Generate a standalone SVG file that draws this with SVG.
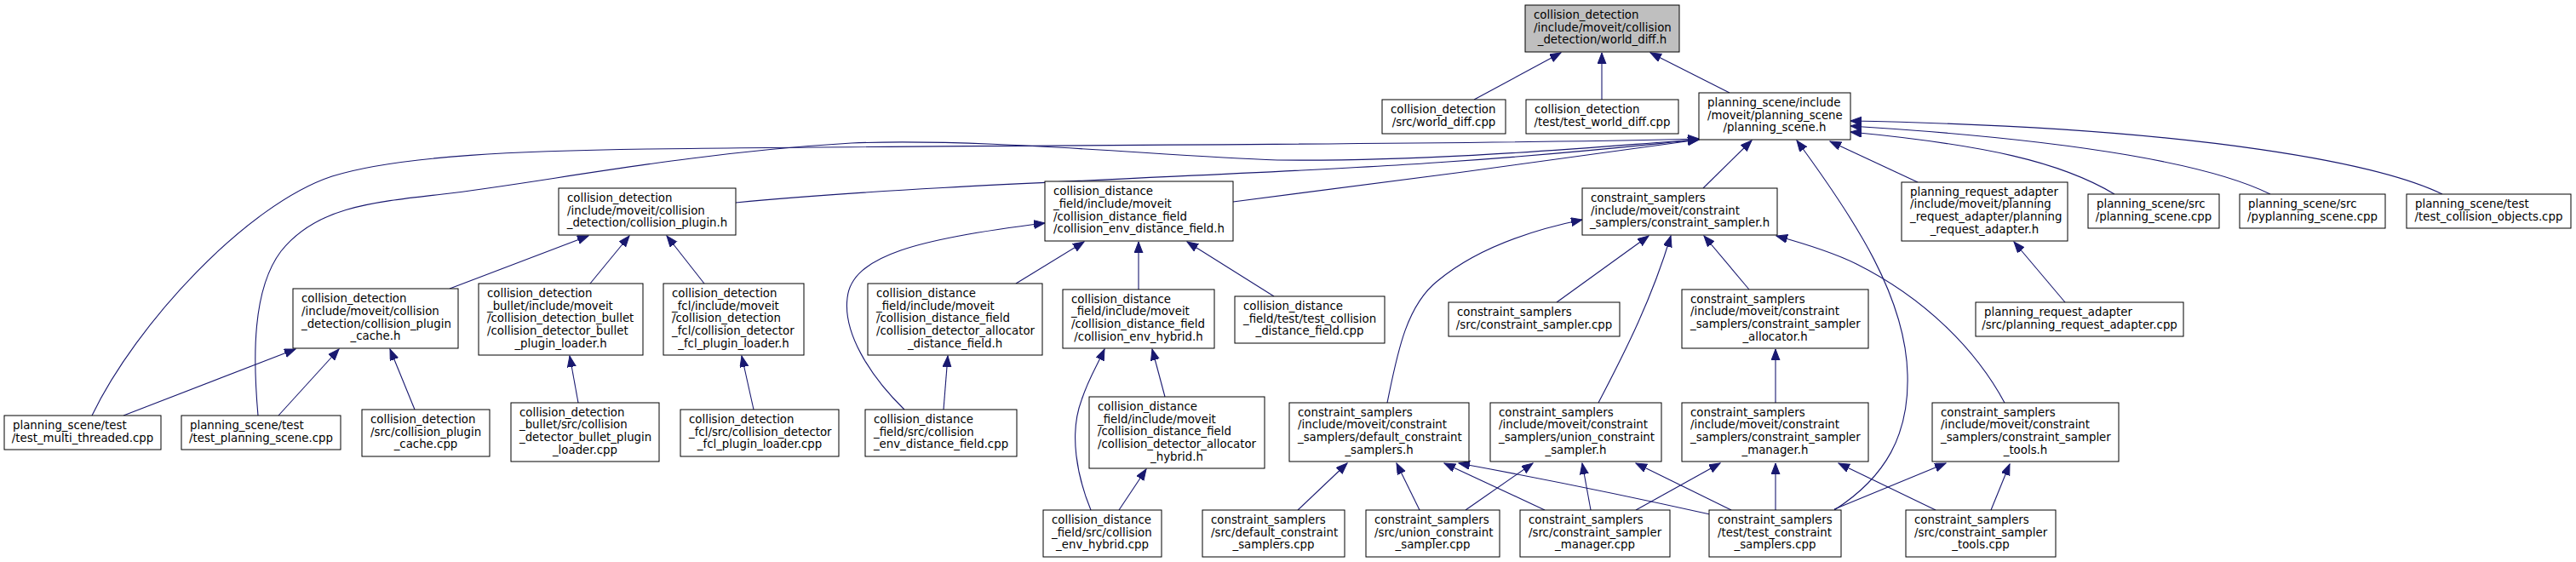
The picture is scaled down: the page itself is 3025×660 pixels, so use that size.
<svg xmlns="http://www.w3.org/2000/svg" width="3025" height="660" viewBox="0 0 3025 660">
<style>
.node rect{fill:#ffffff;stroke:#000000;stroke-width:1}
.root rect{fill:#bfbfbf}
text{font-family:"DejaVu Sans","Liberation Sans",sans-serif;font-size:13.33px;fill:#000000}
.c{text-anchor:middle}
.e path{fill:none;stroke:#191970;stroke-width:1.1;marker-end:url(#ah)}
</style>
<defs>
<marker id="ah" markerUnits="userSpaceOnUse" markerWidth="14" markerHeight="11" refX="13" refY="5" orient="auto">
<path d="M0,0 L13,5 L0,10 z" fill="#191970" stroke="#191970" stroke-width="1"/>
</marker>
</defs>
<rect x="0" y="0" width="3025" height="660" fill="#ffffff"/>
<g id="edges" class="e">
<path d="M1731,117 L1833,62"/>
<path d="M1881,117 L1881,62"/>
<path d="M2031,109 L1938,62"/>
<path d="M108,488 C160,380 290,240 390,207 C470,182 620,177 760,175 C1100,170 1700,171 1995,163"/>
<path d="M303,488 C297,420 296,340 330,295 C370,245 430,238 520,228 C640,214 800,180 1000,168 C1150,162 1350,182 1500,188 C1700,190 1900,170 1995,164"/>
<path d="M864,238 C1100,215 1500,205 1700,190 C1850,180 1950,168 1995,164"/>
<path d="M1448,237 C1600,218 1850,185 1995,164"/>
<path d="M2000,221 L2057,165"/>
<path d="M2154,599 C2215,560 2242,510 2240,440 C2238,350 2180,260 2110,165"/>
<path d="M2252,214 L2149,166"/>
<path d="M2483,228 C2420,190 2330,170 2173,155"/>
<path d="M2666,228 C2600,195 2450,165 2173,148"/>
<path d="M2868,228 C2800,195 2600,150 2173,142"/>
<path d="M528,339 L691,277"/>
<path d="M693,333 L739,277"/>
<path d="M827,333 L783,277"/>
<path d="M145,488 L347,410"/>
<path d="M327,488 L398,410"/>
<path d="M487,481 L458,410"/>
<path d="M679,473 L669,418"/>
<path d="M885,481 L871,418"/>
<path d="M1193,333 L1273,284"/>
<path d="M1337,340 L1337,284"/>
<path d="M1496,348 L1394,284"/>
<path d="M1062,481 C1020,440 990,390 995,350 C1000,300 1080,280 1227,262"/>
<path d="M1108,481 L1113,418"/>
<path d="M1368,466 L1353,410"/>
<path d="M1281,599 C1265,560 1255,510 1270,470 C1278,445 1288,430 1297,410"/>
<path d="M1314,599 L1346,551"/>
<path d="M1828,355 L1936,277"/>
<path d="M2054,340 L2001,277"/>
<path d="M1629,473 C1640,420 1650,360 1688,330 C1730,295 1790,272 1858,258"/>
<path d="M1877,473 C1910,410 1940,350 1962,277"/>
<path d="M2354,473 C2320,410 2260,350 2180,310 C2150,295 2115,285 2086,277"/>
<path d="M2085,473 L2085,410"/>
<path d="M2425,355 L2365,284"/>
<path d="M1524,599 L1582,544"/>
<path d="M1667,599 L1640,544"/>
<path d="M1814,599 L1696,544"/>
<path d="M2008,604 C1900,580 1800,560 1713,544"/>
<path d="M1721,599 L1800,544"/>
<path d="M1868,599 L1858,544"/>
<path d="M2033,599 L1921,544"/>
<path d="M1921,599 L2020,544"/>
<path d="M2085,599 L2085,544"/>
<path d="M2273,599 L2159,544"/>
<path d="M2154,598 L2285,544"/>
<path d="M2338,599 L2360,545"/>
</g>
<g id="n_world_diff_h" class="node root"><rect x="1791" y="6" width="181" height="55"/><text x="1801" y="22">collision_detection</text><text x="1801" y="36.7">/include/moveit/collision</text><text class="c" x="1881.5" y="51.3">_detection/world_diff.h</text></g>
<g id="n_world_diff_cpp" class="node"><rect x="1623" y="117" width="145" height="40"/><text x="1633" y="132.8">collision_detection</text><text class="c" x="1695.5" y="147.5">/src/world_diff.cpp</text></g>
<g id="n_test_world_diff" class="node"><rect x="1792" y="117" width="179" height="40"/><text x="1802" y="132.8">collision_detection</text><text class="c" x="1881.5" y="147.5">/test/test_world_diff.cpp</text></g>
<g id="n_planning_scene_h" class="node"><rect x="1995" y="109" width="178" height="55"/><text x="2005" y="125">planning_scene/include</text><text x="2005" y="139.7">/moveit/planning_scene</text><text class="c" x="2084" y="154.3">/planning_scene.h</text></g>
<g id="n_collision_plugin_h" class="node"><rect x="656" y="221" width="208" height="55"/><text x="666" y="237">collision_detection</text><text x="666" y="251.7">/include/moveit/collision</text><text class="c" x="760" y="266.3">_detection/collision_plugin.h</text></g>
<g id="n_env_distance_field_h" class="node"><rect x="1227" y="213" width="221" height="70"/><text x="1237" y="229.2">collision_distance</text><text x="1237" y="243.8">_field/include/moveit</text><text x="1237" y="258.5">/collision_distance_field</text><text class="c" x="1337.5" y="273.2">/collision_env_distance_field.h</text></g>
<g id="n_constraint_sampler_h" class="node"><rect x="1858" y="221" width="229" height="55"/><text x="1868" y="237">constraint_samplers</text><text x="1868" y="251.7">/include/moveit/constraint</text><text class="c" x="1972.5" y="266.3">_samplers/constraint_sampler.h</text></g>
<g id="n_planning_request_adapter_h" class="node"><rect x="2233" y="214" width="195" height="69"/><text x="2243" y="229.7">planning_request_adapter</text><text x="2243" y="244.3">/include/moveit/planning</text><text x="2243" y="259">_request_adapter/planning</text><text class="c" x="2330.5" y="273.7">_request_adapter.h</text></g>
<g id="n_planning_scene_cpp" class="node"><rect x="2452" y="228" width="154" height="40"/><text x="2462" y="243.8">planning_scene/src</text><text class="c" x="2529" y="258.5">/planning_scene.cpp</text></g>
<g id="n_pyplanning_scene_cpp" class="node"><rect x="2630" y="228" width="171" height="40"/><text x="2640" y="243.8">planning_scene/src</text><text class="c" x="2715.5" y="258.5">/pyplanning_scene.cpp</text></g>
<g id="n_test_collision_objects" class="node"><rect x="2826" y="228" width="193" height="40"/><text x="2836" y="243.8">planning_scene/test</text><text class="c" x="2922.5" y="258.5">/test_collision_objects.cpp</text></g>
<g id="n_collision_plugin_cache_h" class="node"><rect x="344" y="339" width="194" height="70"/><text x="354" y="355.2">collision_detection</text><text x="354" y="369.8">/include/moveit/collision</text><text x="354" y="384.5">_detection/collision_plugin</text><text class="c" x="441" y="399.2">_cache.h</text></g>
<g id="n_bullet_loader_h" class="node"><rect x="562" y="333" width="193" height="84"/><text x="572" y="348.8">collision_detection</text><text x="572" y="363.5">_bullet/include/moveit</text><text x="572" y="378.2">/collision_detection_bullet</text><text x="572" y="392.8">/collision_detector_bullet</text><text class="c" x="658.5" y="407.5">_plugin_loader.h</text></g>
<g id="n_fcl_loader_h" class="node"><rect x="779" y="333" width="165" height="84"/><text x="789" y="348.8">collision_detection</text><text x="789" y="363.5">_fcl/include/moveit</text><text x="789" y="378.2">/collision_detection</text><text x="789" y="392.8">_fcl/collision_detector</text><text class="c" x="861.5" y="407.5">_fcl_plugin_loader.h</text></g>
<g id="n_allocator_distance_field_h" class="node"><rect x="1019" y="333" width="205" height="84"/><text x="1029" y="348.8">collision_distance</text><text x="1029" y="363.5">_field/include/moveit</text><text x="1029" y="378.2">/collision_distance_field</text><text x="1029" y="392.8">/collision_detector_allocator</text><text class="c" x="1121.5" y="407.5">_distance_field.h</text></g>
<g id="n_env_hybrid_h" class="node"><rect x="1248" y="340" width="178" height="69"/><text x="1258" y="355.7">collision_distance</text><text x="1258" y="370.3">_field/include/moveit</text><text x="1258" y="385">/collision_distance_field</text><text class="c" x="1337" y="399.7">/collision_env_hybrid.h</text></g>
<g id="n_test_collision_distance_field" class="node"><rect x="1450" y="348" width="176" height="55"/><text x="1460" y="364">collision_distance</text><text x="1460" y="378.7">_field/test/test_collision</text><text class="c" x="1538" y="393.3">_distance_field.cpp</text></g>
<g id="n_constraint_sampler_cpp" class="node"><rect x="1701" y="355" width="201" height="40"/><text x="1711" y="370.8">constraint_samplers</text><text class="c" x="1801.5" y="385.5">/src/constraint_sampler.cpp</text></g>
<g id="n_sampler_allocator_h" class="node"><rect x="1975" y="340" width="219" height="69"/><text x="1985" y="355.7">constraint_samplers</text><text x="1985" y="370.3">/include/moveit/constraint</text><text x="1985" y="385">_samplers/constraint_sampler</text><text class="c" x="2084.5" y="399.7">_allocator.h</text></g>
<g id="n_planning_request_adapter_cpp" class="node"><rect x="2320" y="355" width="244" height="40"/><text x="2330" y="370.8">planning_request_adapter</text><text class="c" x="2442" y="385.5">/src/planning_request_adapter.cpp</text></g>
<g id="n_test_multi_threaded" class="node"><rect x="5" y="488" width="184" height="40"/><text x="15" y="503.8">planning_scene/test</text><text class="c" x="97" y="518.5">/test_multi_threaded.cpp</text></g>
<g id="n_test_planning_scene" class="node"><rect x="213" y="488" width="187" height="40"/><text x="223" y="503.8">planning_scene/test</text><text class="c" x="306.5" y="518.5">/test_planning_scene.cpp</text></g>
<g id="n_collision_plugin_cache_cpp" class="node"><rect x="425" y="481" width="150" height="55"/><text x="435" y="497">collision_detection</text><text x="435" y="511.7">/src/collision_plugin</text><text class="c" x="500" y="526.3">_cache.cpp</text></g>
<g id="n_bullet_loader_cpp" class="node"><rect x="600" y="473" width="174" height="69"/><text x="610" y="488.7">collision_detection</text><text x="610" y="503.3">_bullet/src/collision</text><text x="610" y="518">_detector_bullet_plugin</text><text class="c" x="687" y="532.7">_loader.cpp</text></g>
<g id="n_fcl_loader_cpp" class="node"><rect x="799" y="481" width="186" height="55"/><text x="809" y="497">collision_detection</text><text x="809" y="511.7">_fcl/src/collision_detector</text><text class="c" x="892" y="526.3">_fcl_plugin_loader.cpp</text></g>
<g id="n_env_distance_field_cpp" class="node"><rect x="1016" y="481" width="178" height="55"/><text x="1026" y="497">collision_distance</text><text x="1026" y="511.7">_field/src/collision</text><text class="c" x="1105" y="526.3">_env_distance_field.cpp</text></g>
<g id="n_allocator_hybrid_h" class="node"><rect x="1279" y="466" width="206" height="84"/><text x="1289" y="481.8">collision_distance</text><text x="1289" y="496.5">_field/include/moveit</text><text x="1289" y="511.2">/collision_distance_field</text><text x="1289" y="525.8">/collision_detector_allocator</text><text class="c" x="1382" y="540.5">_hybrid.h</text></g>
<g id="n_default_constraint_samplers_h" class="node"><rect x="1514" y="473" width="211" height="69"/><text x="1524" y="488.7">constraint_samplers</text><text x="1524" y="503.3">/include/moveit/constraint</text><text x="1524" y="518">_samplers/default_constraint</text><text class="c" x="1619.5" y="532.7">_samplers.h</text></g>
<g id="n_union_constraint_sampler_h" class="node"><rect x="1750" y="473" width="201" height="69"/><text x="1760" y="488.7">constraint_samplers</text><text x="1760" y="503.3">/include/moveit/constraint</text><text x="1760" y="518">_samplers/union_constraint</text><text class="c" x="1850.5" y="532.7">_sampler.h</text></g>
<g id="n_sampler_manager_h" class="node"><rect x="1975" y="473" width="219" height="69"/><text x="1985" y="488.7">constraint_samplers</text><text x="1985" y="503.3">/include/moveit/constraint</text><text x="1985" y="518">_samplers/constraint_sampler</text><text class="c" x="2084.5" y="532.7">_manager.h</text></g>
<g id="n_sampler_tools_h" class="node"><rect x="2269" y="473" width="219" height="69"/><text x="2279" y="488.7">constraint_samplers</text><text x="2279" y="503.3">/include/moveit/constraint</text><text x="2279" y="518">_samplers/constraint_sampler</text><text class="c" x="2378.5" y="532.7">_tools.h</text></g>
<g id="n_env_hybrid_cpp" class="node"><rect x="1225" y="599" width="139" height="55"/><text x="1235" y="615">collision_distance</text><text x="1235" y="629.7">_field/src/collision</text><text class="c" x="1294.5" y="644.3">_env_hybrid.cpp</text></g>
<g id="n_default_constraint_samplers_cpp" class="node"><rect x="1412" y="599" width="167" height="55"/><text x="1422" y="615">constraint_samplers</text><text x="1422" y="629.7">/src/default_constraint</text><text class="c" x="1495.5" y="644.3">_samplers.cpp</text></g>
<g id="n_union_constraint_sampler_cpp" class="node"><rect x="1604" y="599" width="157" height="55"/><text x="1614" y="615">constraint_samplers</text><text x="1614" y="629.7">/src/union_constraint</text><text class="c" x="1682.5" y="644.3">_sampler.cpp</text></g>
<g id="n_sampler_manager_cpp" class="node"><rect x="1785" y="599" width="176" height="55"/><text x="1795" y="615">constraint_samplers</text><text x="1795" y="629.7">/src/constraint_sampler</text><text class="c" x="1873" y="644.3">_manager.cpp</text></g>
<g id="n_test_constraint_samplers" class="node"><rect x="2007" y="599" width="155" height="55"/><text x="2017" y="615">constraint_samplers</text><text x="2017" y="629.7">/test/test_constraint</text><text class="c" x="2084.5" y="644.3">_samplers.cpp</text></g>
<g id="n_sampler_tools_cpp" class="node"><rect x="2238" y="599" width="176" height="55"/><text x="2248" y="615">constraint_samplers</text><text x="2248" y="629.7">/src/constraint_sampler</text><text class="c" x="2326" y="644.3">_tools.cpp</text></g>
</svg>
